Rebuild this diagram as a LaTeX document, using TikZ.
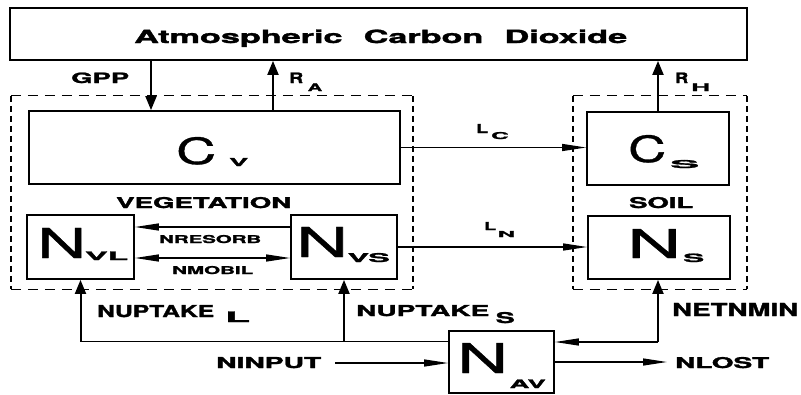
\documentclass[tikz,border=0pt]{standalone}
\usepackage{fontspec}
\setmainfont{TeX Gyre Heros}
\newfontfamily\lbf{TeX Gyre Heros}[BoldFeatures={FakeBold=1.5}]
\newfontfamily\bgf{TeX Gyre Heros}[FakeBold=0.8]
\usetikzlibrary{arrows.meta}
\newcommand\fitb[3]{\resizebox{#1pt}{#2pt}{\lbf\bfseries #3}}
\newcommand\fitr[3]{\resizebox{#1pt}{#2pt}{\bgf #3}}
\tikzset{VT/.tip={Triangle[length=14pt,width=11pt]},
         HT/.tip={Triangle[length=24pt,width=7pt]}}
\begin{document}
\begin{tikzpicture}[x=1pt,y=-1pt,
  box/.style={draw,line width=1.8pt,inner sep=0pt},
  region/.style={inner sep=0pt},
  lab/.style={inner sep=0pt,anchor=base west},
  vl/.style={line width=2pt},
  hl/.style={line width=1.3pt},
  hd/.style={line width=1.3pt,dash pattern=on 10pt off 7pt},
  vd/.style={line width=2pt,dash pattern=on 6pt off 4pt}]
\fill[white] (0,0) rectangle (801,394);
\useasboundingbox (0,0) rectangle (801,394);

% boxes
\node[box,minimum width=737pt,minimum height=52pt] (atm) at (378.5,34) {};
\node[box,minimum width=371pt,minimum height=73pt] (cv) at (214.5,147.5) {};
\node[box,minimum width=142pt,minimum height=73pt] (cs) at (658,148.5) {};
\node[box,minimum width=107pt,minimum height=64pt] (nvl) at (80.5,247) {};
\node[box,minimum width=106pt,minimum height=64pt] (nvs) at (344,247) {};
\node[box,minimum width=142pt,minimum height=63pt] (ns) at (659,247.5) {};
\node[box,minimum width=105pt,minimum height=62pt] (nav) at (501.5,362) {};

% dashed regions
\node[region,minimum width=402pt,minimum height=193pt] (veg) at (212,192.5) {};
\node[region,minimum width=174pt,minimum height=193pt] (soil) at (660,192.5) {};
\foreach \r in {veg,soil}{
  \draw[hd] (\r.north west) -- (\r.north east);
  \draw[hd] (\r.south west) -- (\r.south east);
  \draw[vd] (\r.north west) -- (\r.south west);
  \draw[vd] (\r.north east) -- (\r.south east);
}

% coordinates for connectors
\coordinate (gx) at (151,0);
\coordinate (rax) at (273,0);
\coordinate (rhx) at (658,0);
\coordinate (ry) at (0,227);
\coordinate (my) at (0,258);
\coordinate (up) at (0,341.5);
\coordinate (nin) at (335,363);
\coordinate (nlo) at (667,362);
\coordinate (nm) at (658,342);

% carbon fluxes
\draw[vl,-VT] (gx |- atm.south) -- (gx |- cv.north);
\draw[vl,-VT] (rax |- cv.north) -- (rax |- atm.south);
\draw[vl,-VT] (rhx |- cs.north) -- (rhx |- atm.south);
\draw[hl,-HT] (cv.east) -- (cv.east -| cs.west);

% nitrogen fluxes
\draw[hl,-HT] (nvs.west |- ry) -- (nvl.east |- ry);
\draw[hl,HT-HT] (nvl.east |- my) -- (nvs.west |- my);
\draw[hl,-HT] (nvs.east) -- (nvs.east -| ns.west);
\draw[hl] (nav.west |- up) -- (nvl.south |- up);
\draw[vl,-VT] (nvl.south |- up) -- (nvl.south);
\draw[vl,-VT] (nvs.south |- up) -- (nvs.south);
\draw[hl,-HT] (nin) -- (nin -| nav.west);
\draw[hl,-HT] (nlo -| nav.east) -- (nlo);
\draw[hl,HT-] (nav.east |- nm) -- (nm);
\draw[vl,-VT] (nm) -- (nm |- ns.south);

% labels
\node[lab] (tatm) at (134,43) {\fitb{493}{13.5}{Atmospheric\hspace{0.62em}Carbon\hspace{0.62em}Dioxide}};
\node[lab] (tgpp) at (71,83) {\fitb{58}{10.5}{GPP}};
\node[lab] (tra) at (289,83) {\fitb{14}{10.5}{R}};
\node[lab] (tras) at (307.5,91) {\fitb{14.5}{7.5}{A}};
\node[lab] (trh) at (675,83) {\fitb{13}{10.5}{R}};
\node[lab] (trhs) at (691,91) {\fitb{19}{7.5}{H}};
\node[lab] (tlc) at (476,133) {\fitb{12}{9}{L}};
\node[lab] (tlcs) at (491,139) {\fitb{17.5}{7}{C}};
\node[lab] (tveg) at (116,208) {\fitb{175}{11}{VEGETATION}};
\node[lab] (tres) at (159,243) {\fitb{102}{8}{NRESORB}};
\node[lab] (tmob) at (172,274) {\fitb{81}{8}{NMOBIL}};
\node[lab] (tln) at (484,230) {\fitb{12}{8}{L}};
\node[lab] (tlns) at (497.5,237) {\fitb{17.5}{6}{N}};
\node[lab] (tsoil) at (629,208) {\fitb{64}{11}{SOIL}};
\node[lab] (tupl) at (97,317) {\fitb{117}{12}{NUPTAKE}};
\node[lab] (tupls) at (225,322) {\fitb{25}{10.5}{L}};
\node[lab] (tups) at (356,316) {\fitb{133}{11}{NUPTAKE}};
\node[lab] (tupss) at (495.5,323) {\fitb{19}{11}{S}};
\node[lab] (tnet) at (672,316) {\fitb{126}{13}{NETNMIN}};
\node[lab] (tlost) at (675,368) {\fitb{94}{11}{NLOST}};
\node[lab] (tin) at (216,368) {\fitb{105}{11}{NINPUT}};

% pool symbols
\node[lab] (scv) at (176,164) {\fitr{40}{27}{C}};
\node[lab] (scvs) at (229,166) {\fitb{19}{8}{V}};
\node[lab] (scs) at (628,162) {\fitr{38}{27}{C}};
\node[lab] (scss) at (670,168) {\fitb{29}{8}{S}};
\node[lab] (snvl) at (37,258) {\fitr{49}{30}{N}};
\node[lab] (snvls) at (85,260) {\fitb{43}{8.5}{VL}};
\node[lab] (snvs) at (296,257) {\fitr{52}{30}{N}};
\node[lab] (snvss) at (347.5,262) {\fitb{42}{9}{VS}};
\node[lab] (sns) at (627,258) {\fitr{54}{29}{N}};
\node[lab] (snss) at (683,262) {\fitb{21}{8.5}{S}};
\node[lab] (snav) at (457,373) {\fitr{51}{30}{N}};
\node[lab] (snavs) at (509.5,388) {\fitb{36}{8.5}{AV}};
\end{tikzpicture}
\end{document}
